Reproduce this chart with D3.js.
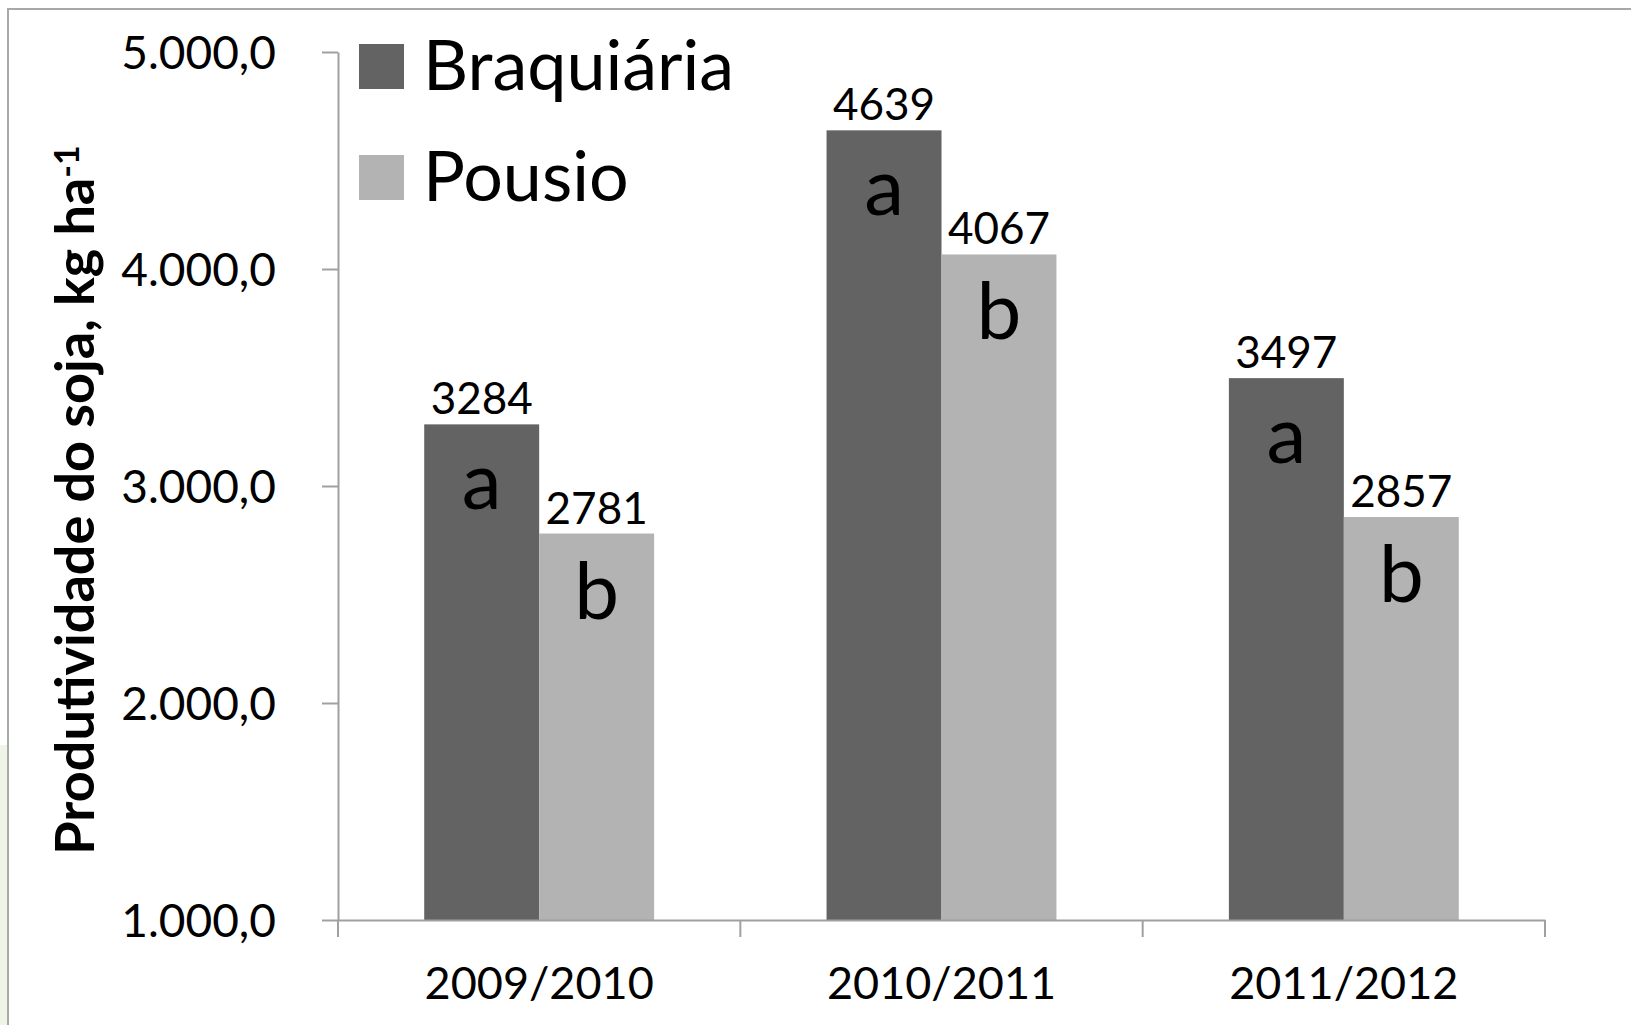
<!DOCTYPE html>
<html>
  <head>
    <meta charset="utf-8">
    <title>Produtividade do soja</title>
    <script src="https://d3js.org/d3.v7.min.js"></script>
    <style>
      body { margin: 0; background: #fff; }
      text { font-family: Lato, "Open Sans", sans-serif; fill: #000; }
      .axis .domain, .axis .tick line { stroke: #a0a0a0; stroke-width: 2px; }
      .axis .tick text { font-size: 46px; fill: #000; }
      .axis--x .tick text { font-size: 45px; }
      .axis__label { font-size: 54px; font-weight: bold; text-anchor: middle; }
      .value { font-size: 44px; text-anchor: middle; }
      .letter { font-size: 80px; text-anchor: middle; }
      .legend text { font-size: 70px; }
    </style>
  </head>
  <body>
    <svg width="1631" height="1025"></svg>
    <script>
      const seasons = ["2009/2010", "2010/2011", "2011/2012"];
      const seriesNames = ["Braquiária", "Pousio"];
      const braquiaria = [3284, 4639, 3497];
      const pousio = [2781, 4067, 2857];
      const braquiariaLetters = ["a", "a", "a"];
      const pousioLetters = ["b", "b", "b"];
      const yTicks = [1000, 2000, 3000, 4000, 5000];
      const colors = ["#636363", "#b3b3b3"];

      const svg = d3.select("svg");
      const margin = {top: 52, right: 86, bottom: 105, left: 338};
      const width = +svg.attr("width");
      const height = +svg.attr("height");
      const innerWidth = width - margin.left - margin.right;
      const innerHeight = height - margin.top - margin.bottom;

      // faint page tint at the lower left and the chart frame
      svg.append("rect")
          .attr("x", 0).attr("y", 745)
          .attr("width", 9).attr("height", height - 745)
          .attr("fill", "#eef5e6");
      svg.append("rect")
          .attr("x", 8).attr("y", 9)
          .attr("width", width + 10).attr("height", height + 10)
          .attr("fill", "none")
          .attr("stroke", "#a8a8a8")
          .attr("stroke-width", 2);

      const data = seasons.map((s, i) => ({
        season: s,
        values: [
          {name: seriesNames[0], value: braquiaria[i], letter: braquiariaLetters[i]},
          {name: seriesNames[1], value: pousio[i], letter: pousioLetters[i]}
        ]
      }));

      const x0 = d3.scaleBand()
        .domain(seasons)
        .range([0, innerWidth])
        .padding(0);
      const x1 = d3.scaleBand()
        .domain(seriesNames)
        .range([0, x0.bandwidth()])
        .paddingInner(0)
        .paddingOuter(0.75);
      const yScale = d3.scaleLinear()
        .domain([1000, 5000])
        .range([innerHeight, 0]);
      const color = d3.scaleOrdinal().domain(seriesNames).range(colors);

      const fmt = d => d3.format(",.1f")(d).replace(/,/g, "#").replace(".", ",").replace(/#/g, ".");

      const g = svg.append("g")
          .attr("transform", `translate(${margin.left}, ${margin.top})`);

      const yAxis = d3.axisLeft(yScale)
        .tickValues(yTicks)
        .tickFormat(fmt)
        .tickSizeInner(16)
        .tickSizeOuter(0)
        .tickPadding(46);
      const yAxisG = g.append("g")
          .attr("class", "axis axis--y")
          .call(yAxis);
      yAxisG.selectAll(".tick text").attr("dy", "0.36em");

      const groups = g.selectAll(".group")
        .data(data)
        .enter().append("g")
          .attr("class", "group")
          .attr("transform", d => `translate(${x0(d.season)}, 0)`);

      groups.selectAll("rect")
        .data(d => d.values)
        .enter().append("rect")
          .attr("x", d => x1(d.name))
          .attr("y", d => yScale(d.value))
          .attr("width", x1.bandwidth())
          .attr("height", d => innerHeight - yScale(d.value))
          .attr("fill", d => color(d.name));

      groups.selectAll(".value")
        .data(d => d.values)
        .enter().append("text")
          .attr("class", "value")
          .attr("x", d => x1(d.name) + x1.bandwidth() / 2)
          .attr("y", d => yScale(d.value) - 10)
          .text(d => d.value);

      groups.selectAll(".letter")
        .data(d => d.values)
        .enter().append("text")
          .attr("class", "letter")
          .attr("x", d => x1(d.name) + x1.bandwidth() / 2)
          .attr("y", d => yScale(d.value) + 85)
          .text(d => d.letter);

      // x axis: labels at band centres, ticks at band edges
      const xAxis = d3.axisBottom(x0)
        .tickSize(0)
        .tickPadding(47);
      const xAxisG = g.append("g")
          .attr("class", "axis axis--x")
          .attr("transform", `translate(0, ${innerHeight})`)
          .call(xAxis);
      xAxisG.selectAll(".tick text").attr("dy", "0.71em");
      xAxisG.selectAll(".edge")
        .data(seasons.map(s => x0(s)).concat([x0.range()[1]]))
        .enter().append("line")
          .attr("class", "edge")
          .attr("x1", d => d).attr("x2", d => d)
          .attr("y1", 0).attr("y2", 17)
          .attr("stroke", "#a0a0a0")
          .attr("stroke-width", 2);

      const yLabel = g.append("text")
          .attr("class", "axis__label")
          .attr("transform", "rotate(-90)")
          .attr("x", -(500 - margin.top))
          .attr("y", 75 - margin.left + 19);
      yLabel.append("tspan").text("Produtividade do soja, kg ha");
      yLabel.append("tspan")
          .attr("dy", "-0.45em")
          .attr("font-size", "34px")
          .text("-1");

      const legend = svg.append("g")
          .attr("class", "legend")
          .attr("transform", "translate(359, 44)");
      const items = legend.selectAll("g")
        .data(seriesNames)
        .enter().append("g")
          .attr("transform", (d, i) => `translate(0, ${i * 111})`);
      items.append("rect")
          .attr("width", 45)
          .attr("height", 45)
          .attr("fill", d => color(d));
      items.append("text")
          .attr("x", 64)
          .attr("y", 46)
          .text(d => d);
    </script>
  </body>
</html>
